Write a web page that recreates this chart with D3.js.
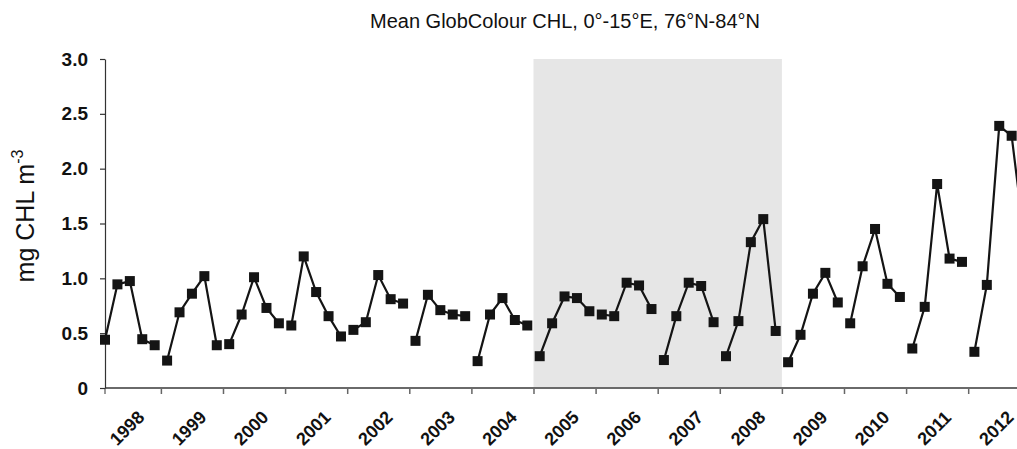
<!DOCTYPE html>
<html>
<head>
<meta charset="utf-8">
<script src="https://cdn.jsdelivr.net/npm/d3@7"></script>
<style>
  html, body { margin: 0; padding: 0; background: #fff; }
  svg { display: block; font-family: Arial, "Liberation Sans", Helvetica, sans-serif; }
</style>
</head>
<body>
<svg id="chart" width="1017" height="449"></svg>
<script>
// ---- data ----
const years = ["1998","1999","2000","2001","2002","2003","2004","2005","2006","2007","2008","2009","2010","2011","2012"];
const pointsPerYear = 5;
// mean CHL (mg m^-3), 5 values per year, in order
const chl = [
  0.44, 0.945, 0.975, 0.445, 0.39,   // 1998
  0.25, 0.69, 0.86, 1.02, 0.39,      // 1999
  0.40, 0.67, 1.01, 0.73, 0.59,      // 2000
  0.57, 1.20, 0.875, 0.655, 0.47,    // 2001
  0.53, 0.60, 1.03, 0.81, 0.77,      // 2002
  0.43, 0.85, 0.71, 0.67, 0.655,     // 2003
  0.245, 0.67, 0.82, 0.62, 0.57,     // 2004
  0.29, 0.59, 0.835, 0.82, 0.70,     // 2005
  0.67, 0.655, 0.96, 0.935, 0.72,    // 2006
  0.255, 0.655, 0.96, 0.93, 0.60,    // 2007
  0.29, 0.61, 1.33, 1.54, 0.52,      // 2008
  0.235, 0.485, 0.86, 1.05, 0.78,    // 2009
  0.59, 1.11, 1.45, 0.95, 0.83,      // 2010
  0.36, 0.74, 1.86, 1.18, 1.15,      // 2011
  0.33, 0.94, 2.39, 2.30, 1.38       // 2012
];
const yTicks = [0, 0.5, 1.0, 1.5, 2.0, 2.5, 3.0];
const yTickLabels = ["0", "0.5", "1.0", "1.5", "2.0", "2.5", "3.0"];
const highlight = ["2005", "2008"];
const title = "Mean GlobColour CHL, 0°-15°E, 76°N-84°N";

// ---- layout ----
const svg = d3.select("#chart");
const step = 12.42;
const x0 = 105;
const n = years.length * pointsPerYear;
const x = d3.scaleLinear().domain([0, n - 1]).range([x0, x0 + (n - 1) * step]);
const y = d3.scaleLinear().domain([0, 3]).range([388, 59]);
const ink = "#141414";

// highlight band
const hStart = years.indexOf(highlight[0]) * pointsPerYear - 0.5;
const hEnd = (years.indexOf(highlight[1]) + 1) * pointsPerYear - 0.5;
svg.append("rect")
  .attr("x", x(hStart)).attr("y", y(3))
  .attr("width", x(hEnd) - x(hStart)).attr("height", y(0) - y(3))
  .attr("fill", "#e6e6e6");

// x axis
const xTickVals = d3.range(1, years.length + 1).map(k => k * pointsPerYear - 0.5);
const xAxis = d3.axisBottom(x).tickValues(xTickVals).tickFormat("").tickSize(6).tickSizeOuter(0);
const gx = svg.append("g").attr("transform", `translate(0,${y(0)})`).call(xAxis);
gx.select(".domain").remove();
gx.selectAll(".tick line").attr("stroke", "#666").attr("stroke-width", 1.5);
svg.append("line").attr("x1", x0).attr("x2", 1017).attr("y1", y(0)).attr("y2", y(0))
  .attr("stroke", "#6a6a6a").attr("stroke-width", 2);
svg.append("line").attr("x1", x0).attr("x2", x0).attr("y1", y(0)).attr("y2", y(0) + 6)
  .attr("stroke", "#555").attr("stroke-width", 1.2);

// year labels
svg.append("g").selectAll("text").data(years).join("text")
  .attr("transform", (d, i) => `translate(${x(i * pointsPerYear + 2) - 3},428) rotate(-45)`)
  .attr("text-anchor", "middle")
  .attr("dy", "0.35em")
  .attr("font-size", 18).attr("font-weight", "bold").attr("fill", "#111")
  .text(d => d);

// y axis
const yAxis = d3.axisLeft(y).tickValues(yTicks).tickFormat((d, i) => yTickLabels[i]).tickSize(5).tickSizeOuter(0).tickPadding(12);
const gy = svg.append("g").attr("transform", `translate(${x0},0)`).call(yAxis);
gy.select(".domain").attr("stroke", "#333").attr("stroke-width", 1.2);
gy.selectAll(".tick line").attr("stroke", "#333").attr("stroke-width", 1.2);
gy.selectAll(".tick text").attr("font-size", 19).attr("font-weight", "bold").attr("fill", "#111")
  .attr("font-family", "Arial, 'Liberation Sans', sans-serif");

// y label
const yl = svg.append("text")
  .attr("transform", "translate(34,216) rotate(-90)")
  .attr("text-anchor", "middle")
  .attr("font-size", 25).attr("fill", "#111");
yl.append("tspan").text("mg CHL m");
yl.append("tspan").attr("font-size", 16).attr("dy", -11).text("-3");

// title
svg.append("text").attr("x", 565).attr("y", 28).attr("text-anchor", "middle")
  .attr("font-size", 20).attr("fill", "#111").text(title);

// series: one line segment per year
const line = d3.line().x(d => x(d.i)).y(d => y(d.v));
const pts = chl.map((v, i) => ({ i, v, yr: Math.floor(i / pointsPerYear) }));
const byYear = d3.groups(pts, d => d.yr).map(g => g[1]);
svg.append("g").selectAll("path").data(byYear).join("path")
  .attr("d", line).attr("fill", "none").attr("stroke", ink).attr("stroke-width", 2.2);
const s = 10;
svg.append("g").selectAll("rect").data(pts).join("rect")
  .attr("x", d => x(d.i) - s / 2).attr("y", d => y(d.v) - s / 2)
  .attr("width", s).attr("height", s).attr("fill", ink);
</script>
</body>
</html>
